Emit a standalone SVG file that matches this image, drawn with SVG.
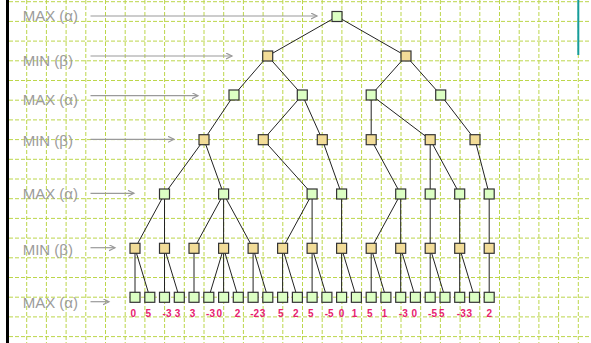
<svg xmlns="http://www.w3.org/2000/svg" width="591" height="343" viewBox="0 0 591 343">
<style>
.g{stroke:#bcd64a;stroke-width:1;stroke-dasharray:4 2;fill:none}
.lbl{font-family:"Liberation Sans",Arial,sans-serif;font-size:15px;fill:#9c9c9c}
.arr{stroke:#9a9a9a;stroke-width:1.2;fill:none;marker-end:url(#ah)}
.e line{stroke:#222;stroke-width:1}
.max{fill:#dcffc4;stroke:#333;stroke-width:1.2}
.min{fill:#f2dc98;stroke:#333;stroke-width:1.2}
.val{font-family:"Liberation Sans",Arial,sans-serif;font-size:10px;font-weight:bold;fill:#e6206e;text-anchor:middle}
</style>
<defs>
<marker id="ah" markerWidth="8" markerHeight="8" refX="6" refY="3" orient="auto" markerUnits="userSpaceOnUse">
<path d="M0,0 L6,3 L0,6" fill="none" stroke="#9a9a9a" stroke-width="1.2"/>
</marker>
</defs>
<rect width="591" height="343" fill="#ffffff"/>
<g id="grid">
<line class="g" x1="26.7" y1="0" x2="26.7" y2="343"/>
<line class="g" x1="46.4" y1="0" x2="46.4" y2="343"/>
<line class="g" x1="66.1" y1="0" x2="66.1" y2="343"/>
<line class="g" x1="85.8" y1="0" x2="85.8" y2="343"/>
<line class="g" x1="105.5" y1="0" x2="105.5" y2="343"/>
<line class="g" x1="125.2" y1="0" x2="125.2" y2="343"/>
<line class="g" x1="144.9" y1="0" x2="144.9" y2="343"/>
<line class="g" x1="164.6" y1="0" x2="164.6" y2="343"/>
<line class="g" x1="184.3" y1="0" x2="184.3" y2="343"/>
<line class="g" x1="204" y1="0" x2="204" y2="343"/>
<line class="g" x1="223.7" y1="0" x2="223.7" y2="343"/>
<line class="g" x1="243.4" y1="0" x2="243.4" y2="343"/>
<line class="g" x1="263.1" y1="0" x2="263.1" y2="343"/>
<line class="g" x1="282.8" y1="0" x2="282.8" y2="343"/>
<line class="g" x1="302.5" y1="0" x2="302.5" y2="343"/>
<line class="g" x1="322.2" y1="0" x2="322.2" y2="343"/>
<line class="g" x1="341.9" y1="0" x2="341.9" y2="343"/>
<line class="g" x1="361.6" y1="0" x2="361.6" y2="343"/>
<line class="g" x1="381.3" y1="0" x2="381.3" y2="343"/>
<line class="g" x1="401" y1="0" x2="401" y2="343"/>
<line class="g" x1="420.7" y1="0" x2="420.7" y2="343"/>
<line class="g" x1="440.4" y1="0" x2="440.4" y2="343"/>
<line class="g" x1="460.1" y1="0" x2="460.1" y2="343"/>
<line class="g" x1="479.8" y1="0" x2="479.8" y2="343"/>
<line class="g" x1="499.5" y1="0" x2="499.5" y2="343"/>
<line class="g" x1="519.2" y1="0" x2="519.2" y2="343"/>
<line class="g" x1="538.9" y1="0" x2="538.9" y2="343"/>
<line class="g" x1="558.6" y1="0" x2="558.6" y2="343"/>
<line class="g" x1="578.3" y1="0" x2="578.3" y2="343"/>
<line class="g" x1="9" y1="1.7" x2="591" y2="1.7"/>
<line class="g" x1="9" y1="21.4" x2="591" y2="21.4"/>
<line class="g" x1="9" y1="41.1" x2="591" y2="41.1"/>
<line class="g" x1="9" y1="60.8" x2="591" y2="60.8"/>
<line class="g" x1="9" y1="80.5" x2="591" y2="80.5"/>
<line class="g" x1="9" y1="100.2" x2="591" y2="100.2"/>
<line class="g" x1="9" y1="119.9" x2="591" y2="119.9"/>
<line class="g" x1="9" y1="139.6" x2="591" y2="139.6"/>
<line class="g" x1="9" y1="159.3" x2="591" y2="159.3"/>
<line class="g" x1="9" y1="179" x2="591" y2="179"/>
<line class="g" x1="9" y1="198.7" x2="591" y2="198.7"/>
<line class="g" x1="9" y1="218.4" x2="591" y2="218.4"/>
<line class="g" x1="9" y1="238.1" x2="591" y2="238.1"/>
<line class="g" x1="9" y1="257.8" x2="591" y2="257.8"/>
<line class="g" x1="9" y1="277.5" x2="591" y2="277.5"/>
<line class="g" x1="9" y1="297.2" x2="591" y2="297.2"/>
<line class="g" x1="9" y1="316.9" x2="591" y2="316.9"/>
<line class="g" x1="9" y1="336.6" x2="591" y2="336.6"/>
</g>
<line x1="7.5" y1="0" x2="7.5" y2="343" stroke="#000" stroke-width="3"/>
<line x1="578.3" y1="0" x2="578.3" y2="55" stroke="#159c9c" stroke-width="2"/>
<g id="labels">
<text class="lbl" x="22.7" y="21.3">MAX (α)</text>
<text class="lbl" x="22.7" y="65.7">MIN (β)</text>
<text class="lbl" x="22.7" y="105">MAX (α)</text>
<text class="lbl" x="22.7" y="145.5">MIN (β)</text>
<text class="lbl" x="22.7" y="199">MAX (α)</text>
<text class="lbl" x="22.7" y="254.5">MIN (β)</text>
<text class="lbl" x="22.7" y="308">MAX (α)</text>
<line class="arr" x1="90.5" y1="16" x2="317" y2="16"/>
<line class="arr" x1="90.5" y1="56" x2="232" y2="56"/>
<line class="arr" x1="90.5" y1="95.7" x2="198" y2="95.7"/>
<line class="arr" x1="90.5" y1="139.3" x2="174" y2="139.3"/>
<line class="arr" x1="90.5" y1="193.3" x2="134" y2="193.3"/>
<line class="arr" x1="90.5" y1="247.7" x2="115" y2="247.7"/>
<line class="arr" x1="90.5" y1="301.7" x2="109" y2="301.7"/>
</g>
<g id="connectors" class="e">
<line x1="337" y1="16.5" x2="267.7" y2="56"/>
<line x1="337" y1="16.5" x2="406" y2="56"/>
<line x1="267.7" y1="56" x2="234" y2="95"/>
<line x1="267.7" y1="56" x2="302.3" y2="95"/>
<line x1="406" y1="56" x2="371.2" y2="95"/>
<line x1="406" y1="56" x2="440.7" y2="95"/>
<line x1="234" y1="95" x2="204" y2="139.7"/>
<line x1="302.3" y1="95" x2="263.3" y2="139.7"/>
<line x1="302.3" y1="95" x2="322.3" y2="139.7"/>
<line x1="371.2" y1="95" x2="371.2" y2="139.7"/>
<line x1="371.2" y1="95" x2="430.2" y2="139.7"/>
<line x1="440.7" y1="95" x2="475" y2="139.7"/>
<line x1="204" y1="139.7" x2="164.5" y2="194"/>
<line x1="204" y1="139.7" x2="223.6" y2="194"/>
<line x1="263.3" y1="139.7" x2="312.1" y2="194"/>
<line x1="322.3" y1="139.7" x2="341.6" y2="194"/>
<line x1="371.2" y1="139.7" x2="400.7" y2="194"/>
<line x1="430.2" y1="139.7" x2="430.2" y2="194"/>
<line x1="430.2" y1="139.7" x2="459.7" y2="194"/>
<line x1="475" y1="139.7" x2="489.2" y2="194"/>
<line x1="164.5" y1="194" x2="135" y2="248.3"/>
<line x1="164.5" y1="194" x2="164.5" y2="248.3"/>
<line x1="223.6" y1="194" x2="194" y2="248.3"/>
<line x1="223.6" y1="194" x2="223.6" y2="248.3"/>
<line x1="223.6" y1="194" x2="253.1" y2="248.3"/>
<line x1="312.1" y1="194" x2="282.6" y2="248.3"/>
<line x1="312.1" y1="194" x2="312.1" y2="248.3"/>
<line x1="341.6" y1="194" x2="341.6" y2="248.3"/>
<line x1="400.7" y1="194" x2="371.2" y2="248.3"/>
<line x1="400.7" y1="194" x2="400.7" y2="248.3"/>
<line x1="430.2" y1="194" x2="430.2" y2="248.3"/>
<line x1="459.7" y1="194" x2="459.7" y2="248.3"/>
<line x1="489.2" y1="194" x2="489.2" y2="248.3"/>
<line x1="135" y1="248.3" x2="135" y2="297.3"/>
<line x1="135" y1="248.3" x2="149.8" y2="297.3"/>
<line x1="164.5" y1="248.3" x2="164.5" y2="297.3"/>
<line x1="164.5" y1="248.3" x2="179.3" y2="297.3"/>
<line x1="194" y1="248.3" x2="194" y2="297.3"/>
<line x1="223.6" y1="248.3" x2="208.8" y2="297.3"/>
<line x1="223.6" y1="248.3" x2="223.6" y2="297.3"/>
<line x1="223.6" y1="248.3" x2="238.3" y2="297.3"/>
<line x1="253.1" y1="248.3" x2="253.1" y2="297.3"/>
<line x1="253.1" y1="248.3" x2="267.8" y2="297.3"/>
<line x1="282.6" y1="248.3" x2="282.6" y2="297.3"/>
<line x1="282.6" y1="248.3" x2="297.4" y2="297.3"/>
<line x1="312.1" y1="248.3" x2="312.1" y2="297.3"/>
<line x1="312.1" y1="248.3" x2="326.9" y2="297.3"/>
<line x1="341.6" y1="248.3" x2="341.6" y2="297.3"/>
<line x1="341.6" y1="248.3" x2="356.4" y2="297.3"/>
<line x1="371.2" y1="248.3" x2="371.2" y2="297.3"/>
<line x1="371.2" y1="248.3" x2="385.9" y2="297.3"/>
<line x1="400.7" y1="248.3" x2="400.7" y2="297.3"/>
<line x1="400.7" y1="248.3" x2="415.4" y2="297.3"/>
<line x1="430.2" y1="248.3" x2="430.2" y2="297.3"/>
<line x1="430.2" y1="248.3" x2="445" y2="297.3"/>
<line x1="459.7" y1="248.3" x2="459.7" y2="297.3"/>
<line x1="459.7" y1="248.3" x2="474.5" y2="297.3"/>
<line x1="489.2" y1="248.3" x2="489.2" y2="297.3"/>
</g>
<g id="nodes">
<g id="root"><rect class="max" x="332" y="11.5" width="10" height="10"/></g>
<g id="a1"><rect class="min" x="262.7" y="51" width="10" height="10"/></g>
<g id="a2"><rect class="min" x="401" y="51" width="10" height="10"/></g>
<g id="b1"><rect class="max" x="229" y="90" width="10" height="10"/></g>
<g id="b2"><rect class="max" x="297.3" y="90" width="10" height="10"/></g>
<g id="b3"><rect class="max" x="366.2" y="90" width="10" height="10"/></g>
<g id="b4"><rect class="max" x="435.7" y="90" width="10" height="10"/></g>
<g id="c1"><rect class="min" x="199" y="134.7" width="10" height="10"/></g>
<g id="c2"><rect class="min" x="258.3" y="134.7" width="10" height="10"/></g>
<g id="c3"><rect class="min" x="317.3" y="134.7" width="10" height="10"/></g>
<g id="c4"><rect class="min" x="366.2" y="134.7" width="10" height="10"/></g>
<g id="c5"><rect class="min" x="425.2" y="134.7" width="10" height="10"/></g>
<g id="c6"><rect class="min" x="470" y="134.7" width="10" height="10"/></g>
<g id="d1"><rect class="max" x="159.5" y="189" width="10" height="10"/></g>
<g id="d2"><rect class="max" x="218.6" y="189" width="10" height="10"/></g>
<g id="d3"><rect class="max" x="307.1" y="189" width="10" height="10"/></g>
<g id="d4"><rect class="max" x="336.6" y="189" width="10" height="10"/></g>
<g id="d5"><rect class="max" x="395.7" y="189" width="10" height="10"/></g>
<g id="d6"><rect class="max" x="425.2" y="189" width="10" height="10"/></g>
<g id="d7"><rect class="max" x="454.7" y="189" width="10" height="10"/></g>
<g id="d8"><rect class="max" x="484.2" y="189" width="10" height="10"/></g>
<g id="e0"><rect class="min" x="130" y="243.3" width="10" height="10"/></g>
<g id="e2"><rect class="min" x="159.5" y="243.3" width="10" height="10"/></g>
<g id="e4"><rect class="min" x="189" y="243.3" width="10" height="10"/></g>
<g id="e6"><rect class="min" x="218.6" y="243.3" width="10" height="10"/></g>
<g id="e8"><rect class="min" x="248.1" y="243.3" width="10" height="10"/></g>
<g id="e10"><rect class="min" x="277.6" y="243.3" width="10" height="10"/></g>
<g id="e12"><rect class="min" x="307.1" y="243.3" width="10" height="10"/></g>
<g id="e14"><rect class="min" x="336.6" y="243.3" width="10" height="10"/></g>
<g id="e16"><rect class="min" x="366.2" y="243.3" width="10" height="10"/></g>
<g id="e18"><rect class="min" x="395.7" y="243.3" width="10" height="10"/></g>
<g id="e20"><rect class="min" x="425.2" y="243.3" width="10" height="10"/></g>
<g id="e22"><rect class="min" x="454.7" y="243.3" width="10" height="10"/></g>
<g id="e24"><rect class="min" x="484.2" y="243.3" width="10" height="10"/></g>
<g id="l0"><rect class="max" x="130" y="292.3" width="10" height="10"/><text class="val" x="133.3" y="316.7">0</text></g>
<g id="l1"><rect class="max" x="144.8" y="292.3" width="10" height="10"/><text class="val" x="148.3" y="316.7">5</text></g>
<g id="l2"><rect class="max" x="159.5" y="292.3" width="10" height="10"/><text class="val" x="167" y="316.7">-3</text></g>
<g id="l3"><rect class="max" x="174.3" y="292.3" width="10" height="10"/><text class="val" x="177.5" y="316.7">3</text></g>
<g id="l4"><rect class="max" x="189" y="292.3" width="10" height="10"/><text class="val" x="192.5" y="316.7">3</text></g>
<g id="l5"><rect class="max" x="203.8" y="292.3" width="10" height="10"/><text class="val" x="210.5" y="316.7">-3</text></g>
<g id="l6"><rect class="max" x="218.6" y="292.3" width="10" height="10"/><text class="val" x="219.2" y="316.7">0</text></g>
<g id="l7"><rect class="max" x="233.3" y="292.3" width="10" height="10"/><text class="val" x="237.5" y="316.7">2</text></g>
<g id="l8"><rect class="max" x="248.1" y="292.3" width="10" height="10"/><text class="val" x="254.7" y="316.7">-2</text></g>
<g id="l9"><rect class="max" x="262.8" y="292.3" width="10" height="10"/><text class="val" x="262.5" y="316.7">3</text></g>
<g id="l10"><rect class="max" x="277.6" y="292.3" width="10" height="10"/><text class="val" x="280.8" y="316.7">5</text></g>
<g id="l11"><rect class="max" x="292.4" y="292.3" width="10" height="10"/><text class="val" x="295.8" y="316.7">2</text></g>
<g id="l12"><rect class="max" x="307.1" y="292.3" width="10" height="10"/><text class="val" x="310.8" y="316.7">5</text></g>
<g id="l13"><rect class="max" x="321.9" y="292.3" width="10" height="10"/><text class="val" x="329.2" y="316.7">-5</text></g>
<g id="l14"><rect class="max" x="336.6" y="292.3" width="10" height="10"/><text class="val" x="341.5" y="316.7">0</text></g>
<g id="l15"><rect class="max" x="351.4" y="292.3" width="10" height="10"/><text class="val" x="354.5" y="316.7">1</text></g>
<g id="l16"><rect class="max" x="366.2" y="292.3" width="10" height="10"/><text class="val" x="369.8" y="316.7">5</text></g>
<g id="l17"><rect class="max" x="380.9" y="292.3" width="10" height="10"/><text class="val" x="384.5" y="316.7">1</text></g>
<g id="l18"><rect class="max" x="395.7" y="292.3" width="10" height="10"/><text class="val" x="403.3" y="316.7">-3</text></g>
<g id="l19"><rect class="max" x="410.4" y="292.3" width="10" height="10"/><text class="val" x="414.2" y="316.7">0</text></g>
<g id="l20"><rect class="max" x="425.2" y="292.3" width="10" height="10"/><text class="val" x="432.5" y="316.7">-5</text></g>
<g id="l21"><rect class="max" x="440" y="292.3" width="10" height="10"/><text class="val" x="441.8" y="316.7">5</text></g>
<g id="l22"><rect class="max" x="454.7" y="292.3" width="10" height="10"/><text class="val" x="461.3" y="316.7">-3</text></g>
<g id="l23"><rect class="max" x="469.5" y="292.3" width="10" height="10"/><text class="val" x="469.2" y="316.7">3</text></g>
<g id="l24"><rect class="max" x="484.2" y="292.3" width="10" height="10"/><text class="val" x="489.2" y="316.7">2</text></g>
</g>
</svg>
